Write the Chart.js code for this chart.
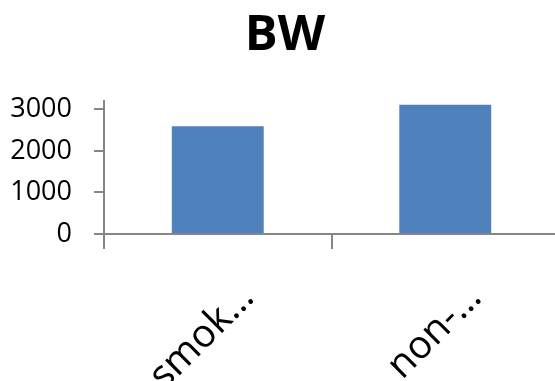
<!DOCTYPE html>
<html>
<head>
<meta charset="utf-8">
<script src="https://cdn.jsdelivr.net/npm/chart.js@4.4.1/dist/chart.umd.min.js"></script>
<style>
  html, body { margin: 0; padding: 0; background: #ffffff; width: 555px; height: 381px; overflow: hidden; }
  canvas { display: block; }
</style>
</head>
<body>
<!-- the plot runs a few pixels past the right edge of the window -->
<canvas id="bw" width="559" height="381"></canvas>
<script>
// Birth weight by smoking status
const categories = ['smok…', 'non-…'];
const bwValues = [2590, 3110];
const yTickValues = [0, 1000, 2000, 3000];
const chartTitle = 'BW';

const axisGrey = '#868686';
const barBlue = '#4F81BD';
const fontFamily = '"Open Sans", "DejaVu Sans", sans-serif';

// Heading drawn a little right of the window centre, over the plot
const headingPlugin = {
  id: 'heading',
  afterDraw(chart) {
    const ctx = chart.ctx;
    ctx.save();
    ctx.font = 'bold 49px ' + fontFamily;
    ctx.fillStyle = '#000000';
    ctx.textAlign = 'center';
    ctx.textBaseline = 'alphabetic';
    ctx.fillText(chartTitle, 285, 50);
    ctx.restore();
  }
};

new Chart(document.getElementById('bw'), {
  type: 'bar',
  data: {
    labels: categories,
    datasets: [{
      label: chartTitle,
      data: bwValues,
      backgroundColor: barBlue,
      borderWidth: 0,
      categoryPercentage: 1,
      barPercentage: 0.404
    }]
  },
  plugins: [headingPlugin],
  options: {
    responsive: false,
    animation: false,
    devicePixelRatio: 1,
    layout: { padding: { left: 0, right: 0, top: 101, bottom: 0 } },
    plugins: {
      legend: { display: false },
      tooltip: { enabled: false },
      title: { display: false }
    },
    scales: {
      x: {
        afterFit: (scale) => {
          scale.height = 147;
          scale.paddingLeft = 0;
          scale.paddingRight = 0;
        },
        grid: {
          display: true,
          drawOnChartArea: false,
          drawTicks: true,
          tickLength: 15,
          color: axisGrey,
          lineWidth: 2,
          offset: true
        },
        border: { display: true, color: axisGrey, width: 2 },
        ticks: {
          color: '#000000',
          font: { family: fontFamily, size: 39 },
          minRotation: 45,
          maxRotation: 45,
          autoSkip: false,
          labelOffset: 30,
          padding: 26
        }
      },
      y: {
        min: 0,
        max: 3200,
        afterFit: (scale) => { scale.width = 104; },
        afterBuildTicks: (scale) => { scale.ticks = yTickValues.map(v => ({ value: v })); },
        grid: {
          display: true,
          drawOnChartArea: false,
          drawTicks: true,
          tickLength: 10,
          color: axisGrey,
          lineWidth: 2
        },
        border: { display: true, color: axisGrey, width: 2 },
        ticks: {
          color: '#000000',
          font: { family: fontFamily, size: 27 },
          padding: 22,
          callback: (value) => String(value)
        }
      }
    }
  }
});
</script>
</body>
</html>
